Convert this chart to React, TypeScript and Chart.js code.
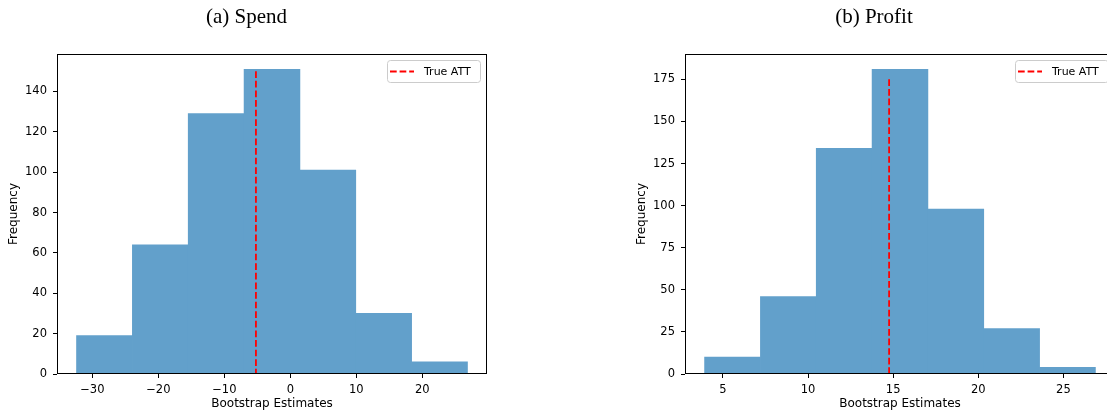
import React, { useEffect, useRef } from 'react';
import { Chart, registerables } from 'chart.js';

Chart.register(...registerables);
Chart.defaults.font.family = '"DejaVu Sans", sans-serif';
Chart.defaults.font.size = 11.5;
Chart.defaults.color = '#000';

// (a) Spend
const spendEdges = [-32.4, -23.94, -15.47, -7.01, 1.46, 9.92, 18.39, 26.85];
const spendCounts = [19, 64, 129, 151, 101, 30, 6];
const spendATT = -5.21;
const spendATTTop = 150;
const spendXTicks = [-30, -20, -10, 0, 10, 20];
const spendYTicks = [0, 20, 40, 60, 80, 100, 120, 140];
const spendXRange = [-35.36, 29.81];
const spendYMax = 158.55;

// (b) Profit
const profitEdges = [3.92, 7.2, 10.48, 13.76, 17.04, 20.32, 23.6, 26.88];
const profitCounts = [10, 46, 134, 181, 98, 27, 4];
const profitATT = 14.76;
const profitATTTop = 175;
const profitXTicks = [5, 10, 15, 20, 25];
const profitYTicks = [0, 25, 50, 75, 100, 125, 150, 175];
const profitXRange = [2.77, 28.03];
const profitYMax = 190.05;

const titles = ['(a) Spend', '(b) Profit'];
const xLabel = 'Bootstrap Estimates';
const yLabel = 'Frequency';
const lineLabel = 'True ATT';

const framePlugin = {
  id: 'frame',
  afterDatasetsDraw(chart: any) {
    const { ctx, chartArea: a } = chart;
    ctx.save();
    ctx.strokeStyle = '#000';
    ctx.lineWidth = 1;
    const l = Math.round(a.left) + 0.5;
    const t = Math.round(a.top) + 0.5;
    const r = Math.round(a.right) - 0.5;
    const b = Math.round(a.bottom) - 0.5;
    ctx.strokeRect(l, t, r - l, b - t);
    ctx.restore();
  },
};

const legendPlugin = {
  id: 'attLegend',
  afterDraw(chart: any) {
    const ds = chart.data.datasets[1];
    const { ctx, chartArea: a } = chart;
    const w = 93, h = 22;
    const x = Math.round(a.right - 7 - w);
    const y = Math.round(a.top + 6);
    ctx.save();
    ctx.beginPath();
    ctx.roundRect(x + 0.5, y + 0.5, w, h, 3);
    ctx.fillStyle = 'rgba(255,255,255,0.8)';
    ctx.fill();
    ctx.strokeStyle = '#cccccc';
    ctx.lineWidth = 1;
    ctx.stroke();
    ctx.beginPath();
    ctx.setLineDash(ds.borderDash);
    ctx.strokeStyle = ds.borderColor;
    ctx.lineWidth = ds.borderWidth;
    ctx.moveTo(x + 3, y + h / 2 + 0.5);
    ctx.lineTo(x + 27, y + h / 2 + 0.5);
    ctx.stroke();
    ctx.setLineDash([]);
    ctx.fillStyle = '#000';
    ctx.font = '11px "DejaVu Sans"';
    ctx.textBaseline = 'middle';
    ctx.textAlign = 'left';
    ctx.fillText(ds.label, x + 37, y + h / 2 + 1);
    ctx.restore();
  },
};

type HistProps = {
  edges: number[];
  counts: number[];
  att: number;
  attTop: number;
  xTicks: number[];
  yTicks: number[];
  xRange: number[];
  yMax: number;
  left: number;
};

function Hist(p: HistProps) {
  const ref = useRef<HTMLCanvasElement>(null);
  useEffect(() => {
    const centers = p.counts.map((_, i) => (p.edges[i] + p.edges[i + 1]) / 2);
    const fmt = (v: any) => String(v).replace('-', '\u2212');
    const chart = new Chart(ref.current as HTMLCanvasElement, {
      type: 'bar',
      data: {
        datasets: [
          {
            type: 'bar',
            label: 'Bootstrap',
            data: p.counts.map((c, i) => ({ x: centers[i], y: c })),
            backgroundColor: 'rgb(98,160,203)',
            borderWidth: 0,
            barPercentage: 1,
            categoryPercentage: 1,
            order: 2,
          } as any,
          {
            type: 'line',
            label: lineLabel,
            data: [
              { x: p.att, y: p.attTop },
              { x: p.att, y: 0 },
            ],
            borderColor: '#ff0000',
            borderWidth: 1.8,
            borderDash: [6.7, 2.9],
            pointRadius: 0,
            fill: false,
            order: 1,
          } as any,
        ],
      },
      options: {
        animation: false,
        responsive: false,
        maintainAspectRatio: false,
        layout: { padding: { top: 54, right: 66, left: 0, bottom: 0 } },
        plugins: { legend: { display: false }, tooltip: { enabled: false } },
        scales: {
          x: {
            type: 'linear',
            min: p.xRange[0],
            max: p.xRange[1],
            offset: false,
            afterBuildTicks: (s: any) => {
              s.ticks = p.xTicks.map((v) => ({ value: v }));
            },
            afterFit: (s: any) => {
              s.height = 41;
            },
            grid: { display: true, drawOnChartArea: false, drawTicks: true, tickLength: 4, color: '#000', offset: false },
            border: { display: false },
            ticks: { color: '#000', padding: 5, maxRotation: 0, autoSkip: false, callback: fmt },
            title: { display: true, text: xLabel, color: '#000', font: { size: 12 }, padding: { top: 0, bottom: 4 } },
          },
          y: {
            type: 'linear',
            min: 0,
            max: p.yMax,
            afterBuildTicks: (s: any) => {
              s.ticks = p.yTicks.map((v) => ({ value: v }));
            },
            afterFit: (s: any) => {
              s.width = 57;
            },
            grid: { display: true, drawOnChartArea: false, drawTicks: true, tickLength: 4, color: '#000' },
            border: { display: false },
            ticks: { color: '#000', padding: 6, autoSkip: false, callback: fmt },
            title: { display: true, text: yLabel, color: '#000', font: { size: 12 }, padding: { top: 7, bottom: 0 } },
          },
        },
      } as any,
      plugins: [framePlugin, legendPlugin],
    });
    return () => chart.destroy();
  }, []);
  return (
    <canvas
      ref={ref}
      width={553}
      height={415}
      style={{ position: 'absolute', left: p.left, top: 0, width: 553, height: 415 }}
    />
  );
}

const titleStyle = (cx: number): React.CSSProperties => ({
  position: 'absolute',
  left: cx - 100,
  width: 200,
  top: 4,
  textAlign: 'center',
  fontFamily: '"Liberation Serif", "Times New Roman", serif',
  fontSize: 21,
  lineHeight: '24px',
  color: '#000',
});

export default function App() {
  return (
    <div
      style={{
        position: 'fixed',
        left: 0,
        top: 0,
        width: 1107,
        height: 415,
        overflow: 'hidden',
        background: '#fff',
      }}
    >
      <Hist
        edges={spendEdges}
        counts={spendCounts}
        att={spendATT}
        attTop={spendATTTop}
        xTicks={spendXTicks}
        yTicks={spendYTicks}
        xRange={spendXRange}
        yMax={spendYMax}
        left={0}
      />
      <Hist
        edges={profitEdges}
        counts={profitCounts}
        att={profitATT}
        attTop={profitATTTop}
        xTicks={profitXTicks}
        yTicks={profitYTicks}
        xRange={profitXRange}
        yMax={profitYMax}
        left={628}
      />
      <div style={titleStyle(246.5)}>{titles[0]}</div>
      <div style={titleStyle(874)}>{titles[1]}</div>
    </div>
  );
}
